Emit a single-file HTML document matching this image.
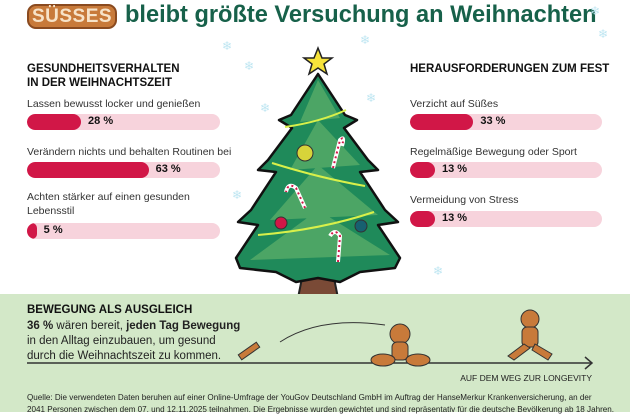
<!DOCTYPE html>
<html><head><meta charset="utf-8">
<style>
body{margin:0;width:630px;height:412px;overflow:hidden;background:#fff;font-family:"Liberation Sans",sans-serif;position:relative}
.a{position:absolute}
.h{font-weight:bold;font-size:11.5px;color:#111;line-height:14px}
.lbl{font-size:10.5px;color:#333;line-height:14px}
.track{position:absolute;height:16px;border-radius:8px;background:#f7d3dc;overflow:hidden}
.fill{position:absolute;left:0;top:0;height:16px;border-radius:8px;background:#d11747}
.val{position:absolute;top:1px;font-size:11px;font-weight:bold;color:#111}
</style></head><body>
<div class="a" style="left:27px;top:4px;width:90px;height:25px;border-radius:9px;background:#c87a3a;border:2px solid #8a4a1f;box-sizing:border-box;color:#f7e3c8;font-weight:bold;font-size:19px;line-height:21px;text-align:center;letter-spacing:0.5px">SÜSSES</div>
<div class="a" style="left:125px;top:2px;font-size:23.6px;font-weight:bold;color:#17614a;white-space:nowrap">bleibt größte Versuchung an Weihnachten</div>

<div class="a h" style="left:27px;top:62px">GESUNDHEITSVERHALTEN<br>IN DER WEIHNACHTSZEIT</div>
<div class="a h" style="left:410px;top:62px">HERAUSFORDERUNGEN ZUM FEST</div>
<div id="bars"></div>

<svg class="a" style="left:0;top:0" width="630" height="412">
<g fill="#bfe6f2" font-size="12">
<text x="222" y="50">❄</text><text x="260" y="112">❄</text><text x="244" y="70">❄</text><text x="366" y="102">❄</text><text x="232" y="199">❄</text><text x="360" y="44">❄</text><text x="590" y="15">❄</text><text x="433" y="275">❄</text><text x="598" y="38">❄</text>
</g>
<path d="M302 278 L334 278 L338 298 L298 298 Z" fill="#7a4a36" stroke="#222" stroke-width="2"/>
<path d="M318 74 L345 115 L357 120 L344 128 L368 160 L378 170 L360 172 L385 210 L398 222 L378 225 L400 258 L395 268 L360 272 L340 282 L318 278 L296 282 L276 272 L240 268 L236 258 L258 225 L238 222 L251 210 L276 172 L258 170 L268 160 L292 128 L279 120 L291 115 Z" fill="#1f8a5a" stroke="#111" stroke-width="2.5" stroke-linejoin="round"/>
<path d="M318 80 L340 118 L300 122 Z M318 120 L360 165 L290 170 Z M318 165 L378 215 L270 220 Z M318 210 L390 255 L250 260 Z" fill="#5fb06a" opacity="0.7"/>
<g stroke="#d8f04a" stroke-width="2" fill="none">
<path d="M285 127 Q320 122 346 110"/><path d="M272 163 Q320 178 365 186"/><path d="M258 235 Q320 230 374 212"/>
</g>
<g stroke="#fff" stroke-width="4" fill="none"><path d="M333 168 L340 140 Q345 135 342 146"/><path d="M305 208 L296 188 Q288 182 286 192"/><path d="M338 262 L340 236 Q335 228 330 236"/></g>
<g stroke="#d11747" stroke-width="2" fill="none" stroke-dasharray="2 3"><path d="M333 168 L340 140 Q345 135 342 146"/><path d="M305 208 L296 188 Q288 182 286 192"/><path d="M338 262 L340 236 Q335 228 330 236"/></g>
<circle cx="305" cy="153" r="8" fill="#d7d43a" stroke="#333"/><circle cx="281" cy="223" r="6" fill="#d11747" stroke="#333"/><circle cx="361" cy="226" r="6" fill="#176070" stroke="#333"/>
<path d="M318 48 L322 58 L332 58 L324 64 L327 74 L318 68 L309 74 L312 64 L304 58 L314 58 Z" fill="#f7e33a" stroke="#222" stroke-width="1.5"/>
</svg>

<div class="a" style="left:0;top:294px;width:630px;height:118px;background:#d3e8c8"></div>
<div class="a h" style="left:27px;top:303px">BEWEGUNG ALS AUSGLEICH</div>
<div class="a" style="left:27px;top:319px;font-size:11.5px;line-height:15px;color:#222"><b>36 %</b> wären bereit, <b>jeden Tag Bewegung</b><br>in den Alltag einzubauen, um gesund<br>durch die Weihnachtszeit zu kommen.</div>
<svg class="a" style="left:0;top:294px" width="630" height="118">
<line x1="27" y1="69" x2="592" y2="69" stroke="#333" stroke-width="1.5"/>
<path d="M585 63 L592 69 L585 75" stroke="#333" stroke-width="1.5" fill="none"/>
<path d="M280 48 Q320 22 385 31" stroke="#333" fill="none"/>
<g fill="#c87a3a" stroke="#333">
<rect x="238" y="54" width="22" height="6" transform="rotate(-35 249 57)"/>
<circle cx="400" cy="40" r="10"/><rect x="392" y="48" width="16" height="18" rx="5"/>
<ellipse cx="383" cy="66" rx="12" ry="6"/><ellipse cx="418" cy="66" rx="12" ry="6"/>
<circle cx="530" cy="25" r="9"/><rect x="522" y="33" width="16" height="20" rx="5"/>
<path d="M524 50 L508 62 L514 66 L530 54 Z"/><path d="M535 50 L552 60 L548 66 L532 56 Z"/>
</g>
</svg>
<div class="a" style="right:38px;top:373px;font-size:8.5px;color:#222">AUF DEM WEG ZUR LONGEVITY</div>
<div class="a" style="left:27px;top:392px;font-size:8.1px;line-height:12px;color:#222;white-space:nowrap">Quelle: Die verwendeten Daten beruhen auf einer Online-Umfrage der YouGov Deutschland GmbH im Auftrag der HanseMerkur Krankenversicherung, an der<br>2041 Personen zwischen dem 07. und 12.11.2025 teilnahmen. Die Ergebnisse wurden gewichtet und sind repräsentativ für die deutsche Bevölkerung ab 18 Jahren.</div>

<script>
const leftLabels=["Lassen bewusst locker und genießen","Verändern nichts und behalten Routinen bei","Achten stärker auf einen gesunden<br>Lebensstil"];
const leftValues=[28,63,5];
const rightLabels=["Verzicht auf Süßes","Regelmäßige Bewegung oder Sport","Vermeidung von Stress"];
const rightValues=[33,13,13];
const host=document.getElementById('bars');
function group(labels,values,x,w,labelTops,barTops,prefix){
  labels.forEach((l,i)=>{
    const lb=document.createElement('div');
    lb.className='a lbl';lb.style.left=x+'px';lb.style.top=labelTops[i]+'px';lb.innerHTML=l;
    
    
    host.appendChild(lb);
    const t=document.createElement('div');
    t.className='track';t.style.left=x+'px';t.style.top=barTops[i]+'px';t.style.width=w+'px';
    
    
    const fw=w*values[i]/100;
    const f=document.createElement('div');f.className='fill';f.style.width=fw+'px';
    
    
    t.appendChild(f);
    const v=document.createElement('div');v.className='val';v.style.left=(fw+7)+'px';v.textContent=values[i]+' %';
    
    
    t.appendChild(v);
    host.appendChild(t);
  });
}
group(leftLabels,leftValues,27,193,[97,145,190],[114,162,223],'left');
group(rightLabels,rightValues,410,192,[97,145,193],[114,162,211],'right');
</script>
</body></html>
